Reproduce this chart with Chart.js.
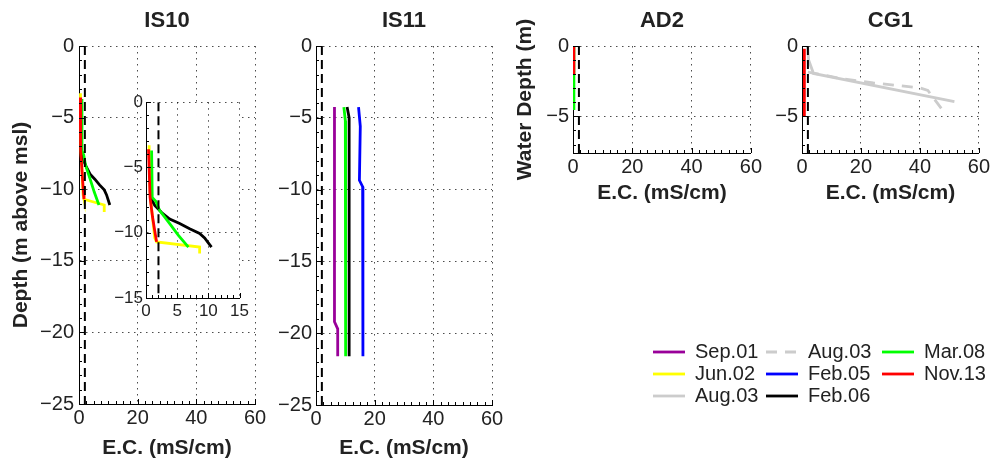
<!DOCTYPE html>
<html lang="en">

<head>
    <meta charset="UTF-8">
    <title>E.C. profiles</title>
    <script src="https://cdn.jsdelivr.net/npm/chart.js"></script>
    <style>
        body { margin: 0; background: #fff; }
        #wrap { position: relative; width: 992px; height: 461px; overflow: hidden; background: #fff; }
        #wrap canvas { position: absolute; }
    </style>
</head>

<body>
    <div id="wrap">
        <canvas id="is10"></canvas>
        <canvas id="inset"></canvas>
        <canvas id="is11"></canvas>
        <canvas id="ad2"></canvas>
        <canvas id="cg1"></canvas>
        <canvas id="legend0"></canvas>
        <canvas id="legend1"></canvas>
        <canvas id="legend2"></canvas>
    </div>
    <script>
        // tick labels
        const ecTicks = [0, 20, 40, 60];
        const depthTicks = [0, -5, -10, -15, -20, -25];
        const waterTicks = [0, -5];
        const insetEcTicks = [0, 5, 10, 15];
        const insetDepthTicks = [0, -5, -10, -15];
        const threshold = 2; // dashed E.C. line (mS/cm)

        // profiles as [E.C. (mS/cm), depth (m)]
        const is10Jun02 = [[0.5, -3.3], [0.7, -7.3], [1.4, -10.4], [1.7, -10.7], [8.6, -11.1], [8.6, -11.6]];
        const is10Feb06 = [[0.75, -7.3], [1.4, -7.9], [2.5, -8.45], [3.8, -8.95], [5.4, -9.3], [7.0, -9.7], [8.6, -10.05], [9.4, -10.4], [10.5, -11.1]];
        const is10Mar08 = [[0.9, -3.7], [1.0, -7.3], [1.6, -7.6], [2.2, -8.3], [3.8, -9.3], [5.2, -10.2], [6.8, -11.1]];
        const is10Nov13 = [[0.4, -3.6], [0.5, -5.0], [0.65, -7.3], [1.05, -8.8], [1.4, -9.85], [1.7, -10.7]];

        const is11Sep01 = [[6.3, -4.25], [6.3, -19.2], [7.4, -19.7], [7.4, -21.6]];
        const is11Feb05 = [[14.5, -4.25], [15.1, -5.6], [14.8, -9.35], [15.9, -9.8], [16.0, -21.6]];
        const is11Feb06 = [[10.6, -4.25], [11.3, -5.0], [11.3, -21.6]];
        const is11Mar08 = [[9.5, -4.25], [10.0, -5.2], [10.1, -21.6]];

        const ad2Mar08 = [[0.3, 0], [0.3, -4.55]];
        const ad2Nov13 = [[0.3, 0], [0.3, -2.05]];

        const cg1Aug03 = [[1.9, -0.05], [2.25, -1.0], [3.9, -1.95], [51.7, -3.95]];
        const cg1Aug03b = [[2.0, -1.85], [14.0, -2.34], [24.2, -2.62], [39.9, -2.97], [42.7, -3.16], [48.9, -4.9]];
        const cg1Nov13 = [[0.8, -0.2], [0.8, -5.05]];

        const legendLabels = ['Sep.01', 'Jun.02', 'Aug.03', 'Aug.03', 'Feb.05', 'Feb.06', 'Mar.08', 'Nov.13'];
        const legendKeys = ['sep01', 'jun02', 'aug03', 'aug03b', 'feb05', 'feb06', 'mar08', 'nov13'];

        const FONT = 'Liberation Sans, Arial, Helvetica, sans-serif';
        const INK = '#222';
        const COLORS = {
            sep01: 'rgb(153,0,153)', jun02: '#ffff00', aug03: '#cccccc', aug03b: '#cccccc',
            feb05: '#0000ff', feb06: '#000000', mar08: '#00ff00', nov13: '#ff0000'
        };
        const DASHES = { aug03b: [11, 8] };

        const fmt = v => v < 0 ? '\u2212' + Math.abs(v) : String(v);

        // build a line dataset, later surveys are drawn on top
        function series(points, key) {
            return {
                data: points.map(p => ({ x: p[0], y: p[1] })),
                showLine: true,
                borderColor: COLORS[key],
                borderWidth: 2.8,
                borderDash: DASHES[key] || [],
                pointRadius: 0,
                order: -legendKeys.indexOf(key)
            };
        }

        // inward major/minor tick marks like the original axes
        const tickMarks = {
            id: 'tickMarks',
            afterDraw(chart, args, opts) {
                const { ctx, chartArea: a, scales: { x, y } } = chart;
                ctx.save();
                ctx.strokeStyle = '#000';
                ctx.lineWidth = 1;
                ctx.beginPath();
                for (let v = x.min; v <= x.max + 1e-6; v += opts.xStep) {
                    const px = Math.round(x.getPixelForValue(v)) + 0.5;
                    const len = x.ticks.some(t => Math.abs(t.value - v) < 1e-6) ? 5 : 3;
                    ctx.moveTo(px, a.bottom);
                    ctx.lineTo(px, a.bottom - len);
                }
                for (let v = y.max; v >= y.min - 1e-6; v -= opts.yStep) {
                    const py = Math.round(y.getPixelForValue(v)) + 0.5;
                    const len = y.ticks.some(t => Math.abs(t.value - v) < 1e-6) ? 5 : 3;
                    ctx.moveTo(a.left, py);
                    ctx.lineTo(a.left + len, py);
                }
                ctx.stroke();
                ctx.restore();
            }
        };

        const whiteBg = {
            id: 'whiteBg',
            beforeDraw(chart) {
                const a = chart.chartArea;
                chart.ctx.save();
                chart.ctx.fillStyle = '#fff';
                chart.ctx.fillRect(a.left, a.top, a.right - a.left, a.bottom - a.top);
                chart.ctx.restore();
            }
        };

        function panel(id, box, m, o) {
            const c = document.getElementById(id);
            c.width = box.r - box.l + m.left + m.right;
            c.height = box.b - box.t + m.top + m.bottom;
            c.style.left = (box.l - m.left) + 'px';
            c.style.top = (box.t - m.top) + 'px';

            const yMin = o.yMin;
            const grid = { color: 'rgba(0,0,0,0.7)', lineWidth: 1, drawTicks: false };
            const border = { display: true, color: '#000', width: 1, dash: [1.5, 4.5] };
            const tickFont = { family: FONT, size: o.tickSize };
            const labelFont = { family: FONT, size: 21, weight: 'bold' };

            const datasets = o.datasets.concat([{
                data: [{ x: threshold, y: 0 }, { x: threshold, y: yMin }],
                showLine: true,
                borderColor: '#000',
                borderWidth: 2,
                borderDash: [9, 5],
                pointRadius: 0,
                order: -100
            }]);

            return new Chart(c, {
                type: 'scatter',
                data: { datasets: datasets },
                options: {
                    responsive: false,
                    animation: false,
                    devicePixelRatio: 1,
                    layout: { padding: { left: 0, top: 0, right: m.right, bottom: 0 } },
                    plugins: {
                        legend: { display: false },
                        tooltip: { enabled: false },
                        tickMarks: { xStep: o.xMinor, yStep: o.yMinor }
                    },
                    scales: {
                        x: {
                            type: 'linear', position: 'bottom',
                            min: o.xTicks[0], max: o.xTicks[o.xTicks.length - 1],
                            afterBuildTicks: s => { s.ticks = o.xTicks.map(v => ({ value: v })); },
                            afterFit: s => { s.height = m.bottom; },
                            ticks: { font: tickFont, color: INK, padding: o.xPad, maxRotation: 0, autoSkip: false, callback: fmt },
                            grid: grid, border: border,
                            title: { display: !!o.xTitle, text: o.xTitle, color: INK, font: labelFont, padding: { top: 0, bottom: o.xTitlePad } }
                        },
                        y: {
                            type: 'linear', position: 'left',
                            min: yMin, max: 0,
                            afterBuildTicks: s => { s.ticks = o.yTicks.map(v => ({ value: v })); },
                            afterFit: s => { s.width = m.left; },
                            ticks: { font: tickFont, color: INK, padding: o.yPad, autoSkip: false, callback: fmt },
                            grid: grid, border: border,
                            title: { display: !!o.yTitle, text: o.yTitle, color: INK, font: labelFont, padding: { top: o.yTitlePad, bottom: 0 } }
                        },
                        top: {
                            type: 'linear', position: 'top', min: 0, max: 1,
                            afterFit: s => { s.height = m.top; },
                            ticks: { display: false },
                            grid: { display: false, drawTicks: false },
                            border: { display: false },
                            title: { display: !!o.title, text: o.title, color: INK, font: { family: FONT, size: 22, weight: 'bold' }, padding: { top: 8, bottom: 0 } }
                        }
                    }
                },
                plugins: o.whiteBg ? [whiteBg, tickMarks] : [tickMarks]
            });
        }

        const is10Sets = () => [
            series(is10Jun02, 'jun02'), series(is10Feb06, 'feb06'),
            series(is10Mar08, 'mar08'), series(is10Nov13, 'nov13')
        ];

        panel('is10', { l: 79, t: 46, r: 255, b: 404 }, { left: 79, top: 46, right: 14, bottom: 57 }, {
            title: 'IS10', xTitle: 'E.C. (mS/cm)', yTitle: 'Depth (m above msl)',
            xTicks: ecTicks, yTicks: depthTicks, yMin: -25, xMinor: 2.5, yMinor: 1,
            tickSize: 20, xPad: 2, yPad: 5, xTitlePad: 0, yTitlePad: 9,
            datasets: is10Sets()
        });

        panel('inset', { l: 146, t: 101, r: 240, b: 298 }, { left: 40, top: 12, right: 12, bottom: 30 }, {
            xTicks: insetEcTicks, yTicks: insetDepthTicks, yMin: -15, xMinor: 1, yMinor: 1,
            tickSize: 17, xPad: 3, yPad: 3, whiteBg: true,
            datasets: is10Sets()
        });

        panel('is11', { l: 316, t: 46, r: 492, b: 405 }, { left: 60, top: 46, right: 14, bottom: 56 }, {
            title: 'IS11', xTitle: 'E.C. (mS/cm)',
            xTicks: ecTicks, yTicks: depthTicks, yMin: -25, xMinor: 2.5, yMinor: 1,
            tickSize: 20, xPad: 2, yPad: 4, xTitlePad: 0,
            datasets: [
                series(is11Sep01, 'sep01'), series(is11Feb05, 'feb05'),
                series(is11Feb06, 'feb06'), series(is11Mar08, 'mar08')
            ]
        });

        panel('ad2', { l: 573, t: 46, r: 751, b: 153 }, { left: 62, top: 46, right: 13, bottom: 60 }, {
            title: 'AD2', xTitle: 'E.C. (mS/cm)', yTitle: 'Water Depth (m)',
            xTicks: ecTicks, yTicks: waterTicks, yMin: -7.6, xMinor: 2.5, yMinor: 1,
            tickSize: 20, xPad: 2, yPad: 4, xTitlePad: 7, yTitlePad: 2,
            datasets: [series(ad2Mar08, 'mar08'), series(ad2Nov13, 'nov13')]
        });

        panel('cg1', { l: 802, t: 46, r: 980, b: 153 }, { left: 50, top: 46, right: 12, bottom: 60 }, {
            title: 'CG1', xTitle: 'E.C. (mS/cm)',
            xTicks: ecTicks, yTicks: waterTicks, yMin: -7.6, xMinor: 2.5, yMinor: 1,
            tickSize: 20, xPad: 2, yPad: 4, xTitlePad: 7,
            datasets: [
                series(cg1Aug03, 'aug03'), series(cg1Aug03b, 'aug03b'), series(cg1Nov13, 'nov13')
            ]
        });

        // legend: one small canvas per column, three entries each
        const legendCols = [[0, 1, 2], [3, 4, 5], [6, 7]];
        const legendLefts = [651, 764, 880];
        legendCols.forEach((items, col) => {
            const lc = document.getElementById('legend' + col);
            lc.width = 112;
            lc.height = 80;
            lc.style.left = legendLefts[col] + 'px';
            lc.style.top = '340px';
            new Chart(lc, {
                type: 'scatter',
                data: { datasets: [] },
                options: {
                    responsive: false,
                    animation: false,
                    devicePixelRatio: 1,
                    scales: { x: { display: false }, y: { display: false } },
                    plugins: {
                        tooltip: { enabled: false },
                        legend: {
                            position: 'left',
                            align: 'start',
                            maxWidth: 112,
                            labels: {
                                usePointStyle: true,
                                pointStyleWidth: 32,
                                padding: 2,
                                color: INK,
                                font: { family: FONT, size: 20 },
                                generateLabels: () => items.map(i => ({
                                    text: legendLabels[i],
                                    strokeStyle: COLORS[legendKeys[i]],
                                    fillStyle: COLORS[legendKeys[i]],
                                    lineWidth: 2.8,
                                    lineDash: DASHES[legendKeys[i]] || [],
                                    pointStyle: 'line',
                                    fontColor: INK,
                                    hidden: false,
                                    datasetIndex: i
                                }))
                            }
                        }
                    }
                }
            });
        });
    </script>
</body>

</html>
